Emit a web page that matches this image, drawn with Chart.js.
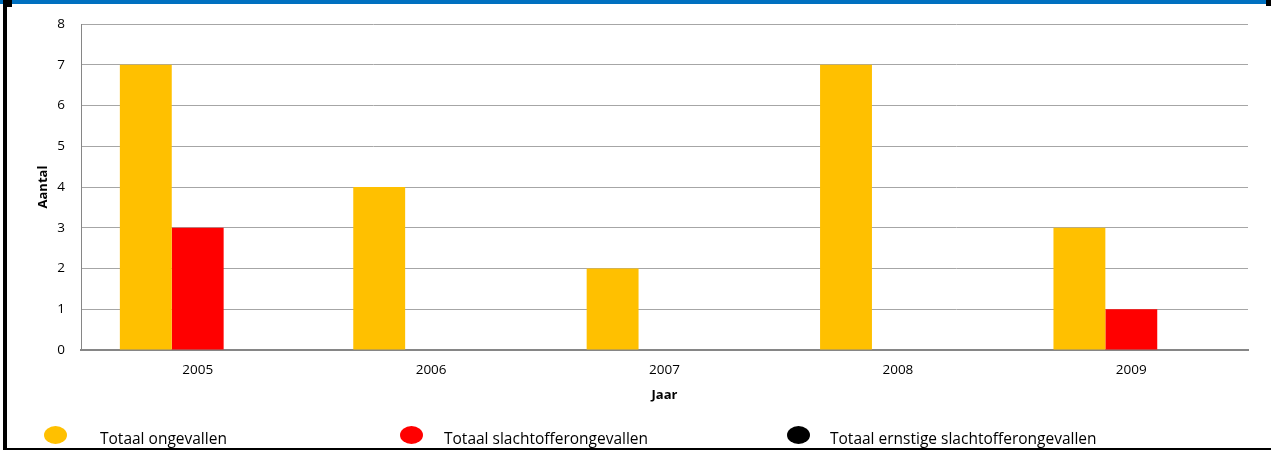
<!DOCTYPE html>
<html>
<head>
<meta charset="utf-8">
<script src="https://cdn.jsdelivr.net/npm/chart.js@4"></script>
<style>
  html, body { margin: 0; padding: 0; background: #fff; }
  #wrap { position: relative; width: 1271px; height: 450px; overflow: hidden; font-family: "Open Sans", "Liberation Sans", sans-serif; }
  #chart { position: absolute; left: 0; top: 0; }
  .topband { position: absolute; left: 0; top: 0; width: 1266px; height: 4px; background: #0070C0; }
  .corner { position: absolute; background: #000; }
  .legend-dot { position: absolute; top: 426px; width: 23px; height: 18px; border-radius: 50%; }
  .legend-text { position: absolute; top: 427px; white-space: nowrap; font-size: 15.5px; color: #000; line-height: 22px; }
</style>
</head>
<body>
<div id="wrap">
  <canvas id="chart" width="1271" height="450"></canvas>
  <div class="topband"></div>
  <div class="corner" style="left:3px;top:0;width:4px;height:450px;"></div>
  <div class="corner" style="left:3px;top:0;width:9px;height:7px;"></div>
  <div class="corner" style="left:1266px;top:0;width:5px;height:6px;"></div>
  <div class="corner" style="left:3px;top:448px;width:1268px;height:2px;"></div>
  <div id="legend"></div>
</div>
<script>
// Jaren en aantallen
const years = ['2005', '2006', '2007', '2008', '2009'];
const totaalOngevallen = [7, 4, 2, 7, 3];
const totaalSlachtoffer = [3, 0, 0, 0, 1];
const totaalErnstig = [0, 0, 0, 0, 0];

const seriesLabels = ['Totaal ongevallen', 'Totaal slachtofferongevallen', 'Totaal ernstige slachtofferongevallen'];
const seriesColors = ['#FFC000', '#FF0000', '#000000'];
const legendDotLeft = [44, 400, 787];
const legendTextLeft = [100, 444, 830];

const fontFamily = '"Open Sans", "Liberation Sans", sans-serif';

const datasets = [totaalOngevallen, totaalSlachtoffer, totaalErnstig].map((values, i) => ({
    label: seriesLabels[i],
    data: values,
    backgroundColor: seriesColors[i],
    borderWidth: 0,
    categoryPercentage: 0.667,
    barPercentage: 1
}));

const ctx = document.getElementById('chart').getContext('2d');
new Chart(ctx, {
    type: 'bar',
    data: { labels: years, datasets: datasets },
    options: {
        responsive: false,
        animation: false,
        layout: { padding: { left: 31, right: 23, top: 21, bottom: 43 } },
        plugins: { legend: { display: false }, tooltip: { enabled: false } },
        scales: {
            x: {
                afterFit: s => { s.height = 57; },
                grid: { display: false, drawTicks: false },
                border: { color: '#868686', width: 2 },
                ticks: { padding: 12, color: '#000', font: { family: fontFamily, size: 13.5 } },
                title: { display: true, text: 'Jaar', color: '#000', font: { family: fontFamily, size: 13, weight: 'bold' } }
            },
            y: {
                min: 0,
                max: 8,
                afterFit: s => { s.width = 50; },
                grid: { color: '#A6A6A6', drawTicks: false },
                border: { color: '#868686', width: 1 },
                ticks: { stepSize: 1, padding: 16, color: '#000', font: { family: fontFamily, size: 13.5 } },
                title: { display: true, text: 'Aantal', color: '#000', font: { family: fontFamily, size: 13, weight: 'bold' } }
            }
        }
    }
});

// Legenda onderaan
const legendEl = document.getElementById('legend');
seriesLabels.forEach((label, i) => {
    const dot = document.createElement('span');
    dot.className = 'legend-dot';
    dot.style.left = legendDotLeft[i] + 'px';
    dot.style.background = seriesColors[i];
    const txt = document.createElement('span');
    txt.className = 'legend-text';
    txt.style.left = legendTextLeft[i] + 'px';
    txt.textContent = label;
    legendEl.appendChild(dot);
    legendEl.appendChild(txt);
});
</script>
</body>
</html>
